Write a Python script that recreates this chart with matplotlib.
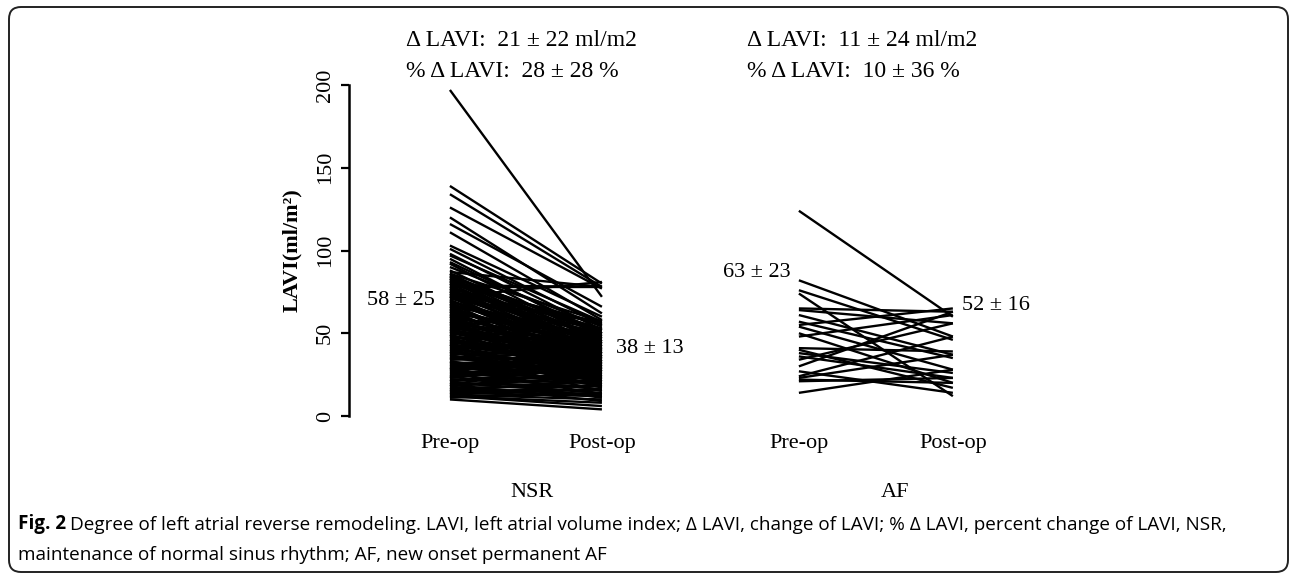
import matplotlib
matplotlib.use("Agg")
import matplotlib.pyplot as plt
from matplotlib.patches import FancyBboxPatch

plt.rcParams['font.family'] = ['Liberation Serif', 'DejaVu Serif']

# NSR group: pre-op / post-op LAVI (ml/m2), one pair per patient
nsr_pre = [197, 139, 134, 126, 120, 116, 111, 103, 101, 98, 97, 95, 93, 92, 90,
           88, 87, 86, 85, 84, 83, 82, 81, 80, 79, 78, 78, 77, 76, 75, 74, 73,
           72, 72, 71, 70, 69, 68, 67, 66, 65, 64, 63, 62, 61, 60, 59, 58, 57,
           56, 55, 54, 53, 52, 51, 50, 49, 48, 47, 46, 45, 44, 43, 42, 41, 40,
           39, 38, 37, 36, 35, 34, 33, 32, 31, 30, 29, 28, 27, 26, 25, 24, 23,
           22, 21, 20, 19, 18, 17, 16, 15, 14, 13, 12, 11, 10,
           86, 85, 84, 83, 82, 81, 80, 79, 78, 77, 76, 75, 74, 73, 72, 71, 70,
           69, 68, 67, 66, 65, 64, 63, 62, 61, 60, 59, 58, 57, 56, 55, 54, 53,
           52, 51, 50, 49, 48, 47, 46, 45, 44, 43, 42, 41, 40, 39, 38, 37, 36,
           35, 34, 33, 32, 31, 30, 29, 28, 27, 26, 25, 24, 23, 22, 21, 20, 19,
           18, 17, 16, 15, 14, 13, 12]
nsr_post = [72, 80, 78, 77, 62, 66, 58, 60, 55, 52, 57, 48, 50, 45, 54,
            44, 78, 42, 50, 40, 47, 36, 55, 38, 78, 43, 78, 32, 49, 35, 56, 41,
            30, 81, 52, 37, 44, 28, 48, 34, 40, 25, 46, 33, 38, 29, 50, 36, 27,
            42, 31, 45, 24, 39, 30, 35, 22, 41, 28, 33, 37, 20, 30, 44, 26, 34,
            18, 31, 40, 24, 29, 36, 21, 27, 33, 19, 25, 38, 22, 30, 16, 28, 35,
            20, 26, 14, 32, 24, 18, 12, 22, 16, 10, 8, 14, 4,
            57, 45, 52, 38, 50, 42, 56, 33, 47, 53, 39, 44, 27, 49, 36, 57, 31,
            46, 40, 23, 51, 35, 43, 29, 48, 21, 41, 32, 45, 38, 26, 49, 34, 42,
            19, 37, 44, 28, 33, 47, 24, 30, 39, 17, 35, 43, 22, 29, 37, 15, 32,
            26, 41, 18, 34, 23, 29, 13, 31, 38, 20, 27, 11, 33, 24, 30, 18, 9,
            27, 13, 21, 16, 12, 19, 6]

# AF group
af_pre = [124, 82, 76, 74, 65, 64, 61, 57, 55, 54, 50, 48, 41, 40, 38, 36,
          34, 30, 27, 24, 23, 22, 21, 14]
af_post = [60, 48, 46, 12, 63, 56, 37, 35, 65, 28, 20, 61, 39, 17, 26, 23,
           56, 63, 14, 48, 37, 20, 23, 28]

tick_labels = ['Pre-op', 'Post-op', 'Pre-op', 'Post-op']
group_labels = ['NSR', 'AF']
delta_text = [['\u0394 LAVI:  21 \u00b1 22 ml/m2', '% \u0394 LAVI:  28 \u00b1 28 %'],
              ['\u0394 LAVI:  11 \u00b1 24 ml/m2', '% \u0394 LAVI:  10 \u00b1 36 %']]
mean_text = ['58 \u00b1 25', '38 \u00b1 13', '63 \u00b1 23', '52 \u00b1 16']

# x positions of the four columns
nsr_x = (1.0, 2.0)
af_x = (3.296, 4.309)

fig = plt.figure(figsize=(12.92, 5.74), dpi=100)
ax = fig.add_axes([349 / 1292, 1 - 416 / 574, 751 / 1292, 331 / 574])

for a, b in zip(nsr_pre, nsr_post):
    ax.plot(nsr_x, [a, b], color='black', lw=1.7, clip_on=False,
            solid_capstyle='butt')
for a, b in zip(af_pre, af_post):
    ax.plot(af_x, [a, b], color='black', lw=1.7, clip_on=False,
            solid_capstyle='butt')

ax.set_xlim(0.336, 5.277)
ax.set_ylim(0, 200)
ax.set_yticks([0, 50, 100, 150, 200])
ax.tick_params(axis='y', labelsize=16, length=6, width=1.6, pad=4,
               labelrotation=90)
for lab in ax.get_yticklabels():
    lab.set_va('center')
ax.set_xticks([nsr_x[0], nsr_x[1], af_x[0], af_x[1]], tick_labels)
ax.tick_params(axis='x', labelsize=16, length=0, pad=13)
for s in ['top', 'right', 'bottom']:
    ax.spines[s].set_visible(False)
ax.spines['left'].set_linewidth(1.8)
ax.set_ylabel('LAVI(ml/m\u00b2)', fontsize=16, fontweight='bold', labelpad=10)

# mean +/- SD labels
ax.text(0.9, 70, mean_text[0], fontsize=16, ha='right', va='center')
ax.text(2.09, 41, mean_text[1], fontsize=16, ha='left', va='center')
ax.text(3.24, 87, mean_text[2], fontsize=16, ha='right', va='center')
ax.text(4.37, 66.5, mean_text[3], fontsize=16, ha='left', va='center')

# change summaries above each group
for xs, lines in zip([0.336 + (406 - 349) / 152, 0.336 + (747 - 349) / 152],
                     delta_text):
    ax.text(xs, 227, lines[0], fontsize=17, ha='left', va='center', clip_on=False)
    ax.text(xs, 208, lines[1], fontsize=17, ha='left', va='center', clip_on=False)

# group names
ax.text(1.54, -46, group_labels[0], fontsize=16, ha='center', va='center')
ax.text(3.93, -46, group_labels[1], fontsize=16, ha='center', va='center')

# rounded frame around figure + caption
frame = FancyBboxPatch((0.09, 0.02), 12.79, 5.65,
                       boxstyle='round,pad=0,rounding_size=0.12',
                       transform=fig.dpi_scale_trans, fill=False,
                       edgecolor='#222222', lw=1.4)
fig.add_artist(frame)

cap_font = ['Open Sans', 'DejaVu Sans']
t1 = fig.text(18 / 1292, 1 - 534 / 574, 'Fig. 2', fontsize=13.6, fontweight='bold',
              family=cap_font, va='bottom')
plt.annotate('Degree of left atrial reverse remodeling. LAVI, left atrial volume '
             'index; \u0394 LAVI, change of LAVI; % \u0394 LAVI, percent change '
             'of LAVI, NSR,', xy=(1, 0), xycoords=t1, xytext=(3, 0),
             textcoords='offset points', fontsize=13.6, family=cap_font,
             va='bottom', annotation_clip=False)
fig.text(18 / 1292, 1 - 564 / 574, 'maintenance of normal sinus rhythm; AF, new '
         'onset permanent AF', fontsize=13.6, family=cap_font, va='bottom')

fig.savefig('out.png', dpi=100)
